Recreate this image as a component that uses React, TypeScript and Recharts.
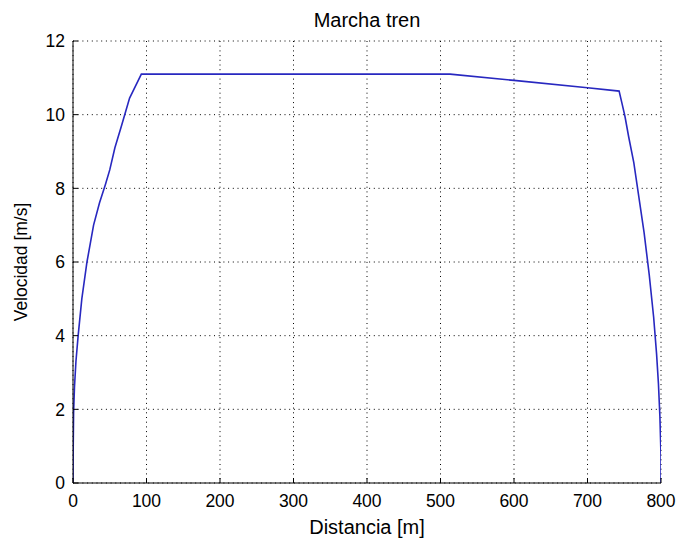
import React from 'react';
import { LineChart, Line, XAxis, YAxis, CartesianGrid } from 'recharts';

const distance = [
  0, 0.3, 0.8, 2, 4, 7, 12, 19, 28, 36, 44, 50, 57, 66, 77, 93,
  300, 513, 600, 700, 743,
  747, 751, 756, 763, 770, 777, 784, 790, 794, 796.5, 798.5, 799.5, 800, 800,
];
const speed = [
  0, 1.0, 1.9, 2.6, 3.3, 4.0, 5.0, 6.0, 7.0, 7.6, 8.1, 8.5, 9.1, 9.7, 10.45, 11.1,
  11.1, 11.1, 10.93, 10.73, 10.64,
  10.3, 9.95, 9.4, 8.7, 7.75, 6.8, 5.65, 4.5, 3.5, 2.7, 1.8, 1.1, 0.75, 0,
];
const xTicks = [0, 100, 200, 300, 400, 500, 600, 700, 800];
const yTicks = [0, 2, 4, 6, 8, 10, 12];
const title = 'Marcha tren';
const xLabel = 'Distancia [m]';
const yLabel = 'Velocidad [m/s]';

const data = distance.map((d, i) => ({ d, v: speed[i] }));

const FONT = '"Liberation Sans", Arial, sans-serif';
const TICK_FS = 17.5;

const XTick = (props: any) => {
  const { x, y, payload } = props;
  return (
    <g>
      <line x1={x} x2={x} y1={y} y2={y - 5} stroke="#000" strokeWidth={1} />
      <text x={x} y={y + 24} textAnchor="middle" fontFamily={FONT} fontSize={TICK_FS} fill="#000">
        {payload.value}
      </text>
    </g>
  );
};

const YTick = (props: any) => {
  const { x, y, payload } = props;
  return (
    <g>
      <line x1={x} x2={x + 5} y1={y} y2={y} stroke="#000" strokeWidth={1} />
      <text x={x - 8} y={y + 6.3} textAnchor="end" fontFamily={FONT} fontSize={TICK_FS} fill="#000">
        {payload.value}
      </text>
    </g>
  );
};

export default function App() {
  return (
    <div style={{ position: 'absolute', left: 0, top: 0, width: 678, height: 541, background: '#fff' }}>
      <LineChart
        width={678}
        height={541}
        data={data}
        margin={{ top: 41, right: 17, bottom: 0, left: 0 }}
      >
        <CartesianGrid stroke="#000" strokeDasharray="1 3.7" strokeWidth={1} />
        <XAxis
          dataKey="d"
          type="number"
          domain={[0, 800]}
          ticks={xTicks}
          allowDataOverflow
          height={58}
          tickSize={0}
          tickMargin={0}
          tickLine={false}
          axisLine={{ stroke: '#000', strokeWidth: 1 }}
          tick={<XTick />}
        />
        <YAxis
          type="number"
          domain={[0, 12]}
          ticks={yTicks}
          allowDataOverflow
          width={73}
          tickSize={0}
          tickMargin={0}
          tickLine={false}
          axisLine={{ stroke: '#000', strokeWidth: 1 }}
          tick={<YTick />}
        />
        <Line
          type="linear"
          dataKey="v"
          stroke="#2828c0"
          strokeWidth={1.6}
          dot={false}
          isAnimationActive={false}
        />
      </LineChart>
      <svg
        width={678}
        height={541}
        style={{ position: 'absolute', left: 0, top: 0, pointerEvents: 'none' }}
      >
        <text x={367} y={27} textAnchor="middle" fontFamily={FONT} fontSize={20} fill="#000">
          {title}
        </text>
        <text x={367} y={534} textAnchor="middle" fontFamily={FONT} fontSize={20} fill="#000">
          {xLabel}
        </text>
        <text
          x={0}
          y={0}
          transform="translate(27,262) rotate(-90)"
          textAnchor="middle"
          fontFamily={FONT}
          fontSize={17.5}
          fill="#000"
        >
          {yLabel}
        </text>
      </svg>
    </div>
  );
}
